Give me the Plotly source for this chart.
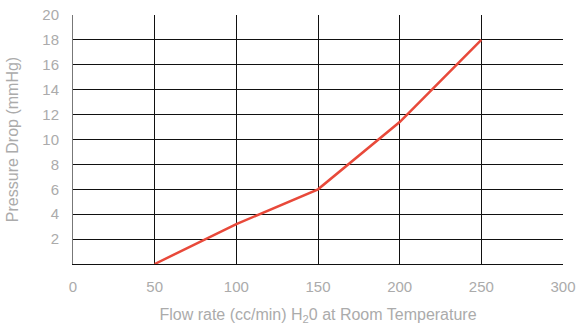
import plotly.graph_objects as go

flow_rate = [50, 100, 150, 200, 250]
pressure_drop = [0, 3.2, 6, 11.4, 18]
x_ticks = [0, 50, 100, 150, 200, 250, 300]
y_ticks = [2, 4, 6, 8, 10, 12, 14, 16, 18, 20]

font_family = "Liberation Sans, Arial, sans-serif"
grey = "#ababab"

fig = go.Figure()
fig.add_trace(go.Scatter(
    x=flow_rate, y=pressure_drop, mode="lines",
    line=dict(color="#e8493a", width=2.5),
    showlegend=False, hoverinfo="skip",
))

fig.update_layout(
    width=587, height=329,
    margin=dict(l=73, r=24, t=15, b=65, autoexpand=False),
    paper_bgcolor="white", plot_bgcolor="white",
    font=dict(family=font_family, color=grey, size=15),
    xaxis=dict(
        range=[0, 300], tickvals=x_ticks, ticks="",
        showgrid=True, gridcolor="#111111", gridwidth=1,
        showline=True, linecolor="#111111", linewidth=1,
        zeroline=False, automargin=False,
        tickfont=dict(size=15, color=grey),
        title=dict(text="Flow rate (cc/min) H<sub>2</sub>0 at Room Temperature",
                   font=dict(size=16, color=grey), standoff=14),
        ticklabelstandoff=9, ticklabeloverflow="allow",
    ),
    yaxis=dict(
        range=[0, 20], tickvals=y_ticks, ticks="",
        showgrid=True, gridcolor="#111111", gridwidth=1,
        showline=True, linecolor="#777777", linewidth=1,
        zeroline=False, automargin=False,
        tickfont=dict(size=15, color=grey),
        title=dict(text="Pressure Drop (mmHg)", font=dict(size=16, color=grey), standoff=19),
        ticklabelstandoff=10, ticklabeloverflow="allow",
    ),
)

fig.write_html("out.html", config={"displayModeBar": False},
               post_script="document.body.style.margin='0';")
